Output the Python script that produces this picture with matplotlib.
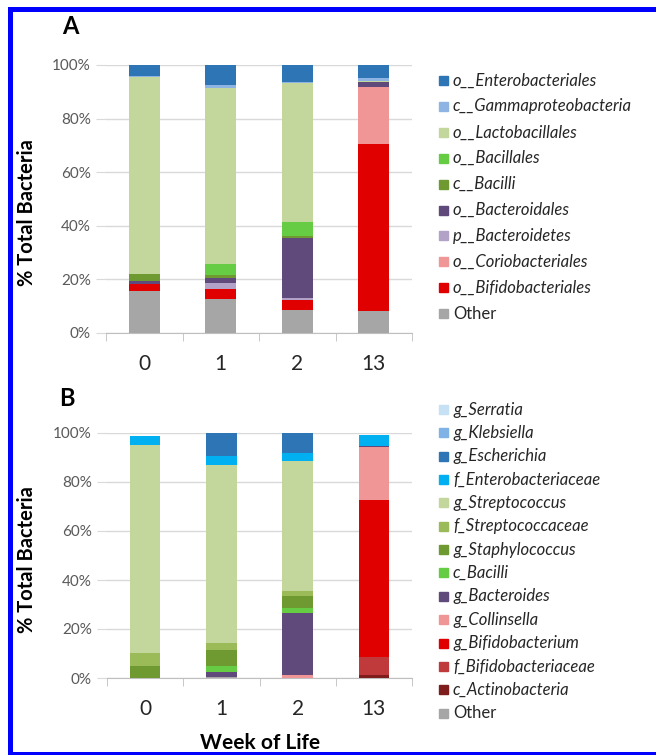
import matplotlib
matplotlib.use("Agg")
import matplotlib.pyplot as plt
from matplotlib.patches import Rectangle
from matplotlib.ticker import FuncFormatter

plt.rcParams['font.family'] = ['Lato', 'DejaVu Sans']

weeks = ['0', '1', '2', '13']

# panel A: order level, listed from the bottom of each stack upwards
order_names = ['Other', 'o__Bifidobacteriales', 'o__Coriobacteriales',
               'p__Bacteroidetes', 'o__Bacteroidales', 'c__Bacilli',
               'o__Bacillales', 'o__Lactobacillales',
               'c__Gammaproteobacteria', 'o__Enterobacteriales']
order_colors = ['#a6a6a6', '#e00000', '#f09696', '#b3a2c7', '#604a7b',
                '#6f9a32', '#66cc44', '#c3d69b', '#8eb4e3', '#2e75b6']
other_a = [15.7, 12.8, 8.7, 8.1]
bifidobacteriales = [2.7, 3.5, 3.5, 62.5]
coriobacteriales = [0.0, 0.0, 0.0, 21.2]
bacteroidetes = [0.0, 2.2, 1.0, 0.0]
bacteroidales = [0.9, 2.0, 22.1, 1.9]
bacilli_a = [2.6, 1.0, 1.0, 0.0]
bacillales = [0.0, 4.3, 5.2, 0.0]
lactobacillales = [73.6, 65.5, 51.8, 0.5]
gammaproteobacteria = [0.4, 1.2, 0.3, 0.8]
enterobacteriales = [4.1, 7.5, 6.4, 5.0]
order_values = [other_a, bifidobacteriales, coriobacteriales, bacteroidetes,
                bacteroidales, bacilli_a, bacillales, lactobacillales,
                gammaproteobacteria, enterobacteriales]

# panel B: genus level, bottom of each stack upwards
genus_names = ['Other', 'c_Actinobacteria', 'f_Bifidobacteriaceae',
               'g_Bifidobacterium', 'g_Collinsella', 'g_Bacteroides',
               'c_Bacilli', 'g_Staphylococcus', 'f_Streptococcaceae',
               'g_Streptococcus', 'f_Enterobacteriaceae', 'g_Escherichia',
               'g_Klebsiella', 'g_Serratia']
genus_colors = ['#a6a6a6', '#7f1d1d', '#c0393b', '#e00000', '#f09696',
                '#604a7b', '#66cc44', '#6f9a32', '#9bbb59', '#c3d69b',
                '#00b0f0', '#2e75b6', '#7fb2e5', '#c6e0f4']
other_b = [0.0, 0.5, 0.0, 0.0]
actinobacteria = [0.0, 0.0, 0.0, 1.4]
bifidobacteriaceae = [0.0, 0.0, 0.0, 7.2]
bifidobacterium = [0.0, 0.0, 0.0, 63.9]
collinsella = [0.0, 0.0, 1.4, 21.8]
bacteroides = [0.0, 2.0, 25.1, 0.5]
bacilli_b = [0.0, 2.3, 2.1, 0.0]
staphylococcus = [4.8, 6.5, 4.7, 0.0]
streptococcaceae = [5.4, 3.0, 2.1, 0.0]
streptococcus = [85.0, 72.8, 53.0, 0.0]
enterobacteriaceae = [3.4, 3.4, 3.4, 4.5]
escherichia = [0.0, 9.5, 8.2, 0.0]
klebsiella = [0.0, 0.0, 0.0, 0.0]
serratia = [0.0, 0.0, 0.0, 0.0]
genus_values = [other_b, actinobacteria, bifidobacteriaceae, bifidobacterium,
                collinsella, bacteroides, bacilli_b, staphylococcus,
                streptococcaceae, streptococcus, enterobacteriaceae,
                escherichia, klebsiella, serratia]

W, H = 656, 755


def fx(px):
    return px / W


def fy(py):
    return 1 - py / H


def stacked_panel(fig, rect, values, colors):
    left, top, right, bottom = rect
    ax = fig.add_axes([fx(left), fy(bottom), fx(right) - fx(left),
                       fy(top) - fy(bottom)])
    x = list(range(len(weeks)))
    base = [0.0] * len(weeks)
    for series, color in zip(values, colors):
        ax.bar(x, series, width=0.4, bottom=base, color=color, linewidth=0,
               zorder=3)
        base = [b + v for b, v in zip(base, series)]

    ax.set_xlim(-0.5, len(weeks) - 0.5)
    ax.set_ylim(0, 100)
    ax.set_yticks(range(0, 101, 20))
    ax.yaxis.set_major_formatter(FuncFormatter(lambda v, p: f"{v:.0f}%"))
    ax.grid(axis='y', color='#d9d9d9', linewidth=1, zorder=0)
    ax.tick_params(axis='y', length=7, color='#d9d9d9', labelsize=11,
                   labelcolor='#595959', pad=4)

    ax.set_xticks(x)
    ax.set_xticklabels(weeks)
    ax.set_xticks([i - 0.5 for i in range(len(weeks) + 1)], minor=True)
    ax.tick_params(axis='x', which='major', length=0, labelsize=15,
                   labelcolor='#262626', pad=15)
    ax.tick_params(axis='x', which='minor', length=6, color='#bfbfbf')

    for side in ['top', 'right', 'left']:
        ax.spines[side].set_visible(False)
    ax.spines['bottom'].set_color('#bfbfbf')
    return ax


def side_legend(fig, names, colors, y_first, step):
    # entries listed from the top of the stack down
    for i, (name, color) in enumerate(zip(names[::-1], colors[::-1])):
        y = y_first + i * step
        fig.add_artist(Rectangle((fx(439), fy(y + 4.5)), fx(9), 9 / H,
                                 color=color, transform=fig.transFigure))
        style = 'normal' if name == 'Other' else 'italic'
        fig.text(fx(453), fy(y), name, fontsize=12, style=style,
                 color='#262626', va='center', ha='left')


fig = plt.figure(figsize=(6.56, 7.55), dpi=100)

stacked_panel(fig, (106, 65, 412, 333), order_values, order_colors)
stacked_panel(fig, (107, 433, 412, 678), genus_values, genus_colors)

side_legend(fig, order_names, order_colors, 80.5, 25.9)
side_legend(fig, genus_names, genus_colors, 409.5, 23.35)

fig.text(fx(70), fy(27), 'A', fontsize=17, fontweight='bold',
         ha='center', va='center')
fig.text(fx(67), fy(398), 'B', fontsize=17, fontweight='bold',
         ha='center', va='center')
fig.text(fx(27), fy(213), '% Total Bacteria', fontsize=14.5,
         fontweight='bold', rotation=90, ha='center', va='center')
fig.text(fx(27), fy(560), '% Total Bacteria', fontsize=14.5,
         fontweight='bold', rotation=90, ha='center', va='center')
fig.text(fx(260), fy(743), 'Week of Life', fontsize=15, fontweight='bold',
         ha='center', va='center')

# blue frame round the figure
frame = dict(color='#0000ff', transform=fig.transFigure, linewidth=0)
fig.add_artist(Rectangle((fx(8), fy(755)), fx(5), 748 / H, **frame))
fig.add_artist(Rectangle((fx(8), fy(12)), 1 - fx(8), 5 / H, **frame))
fig.add_artist(Rectangle((fx(8), fy(755)), 1 - fx(8), 3 / H, **frame))

fig.savefig('out.png', dpi=100)
